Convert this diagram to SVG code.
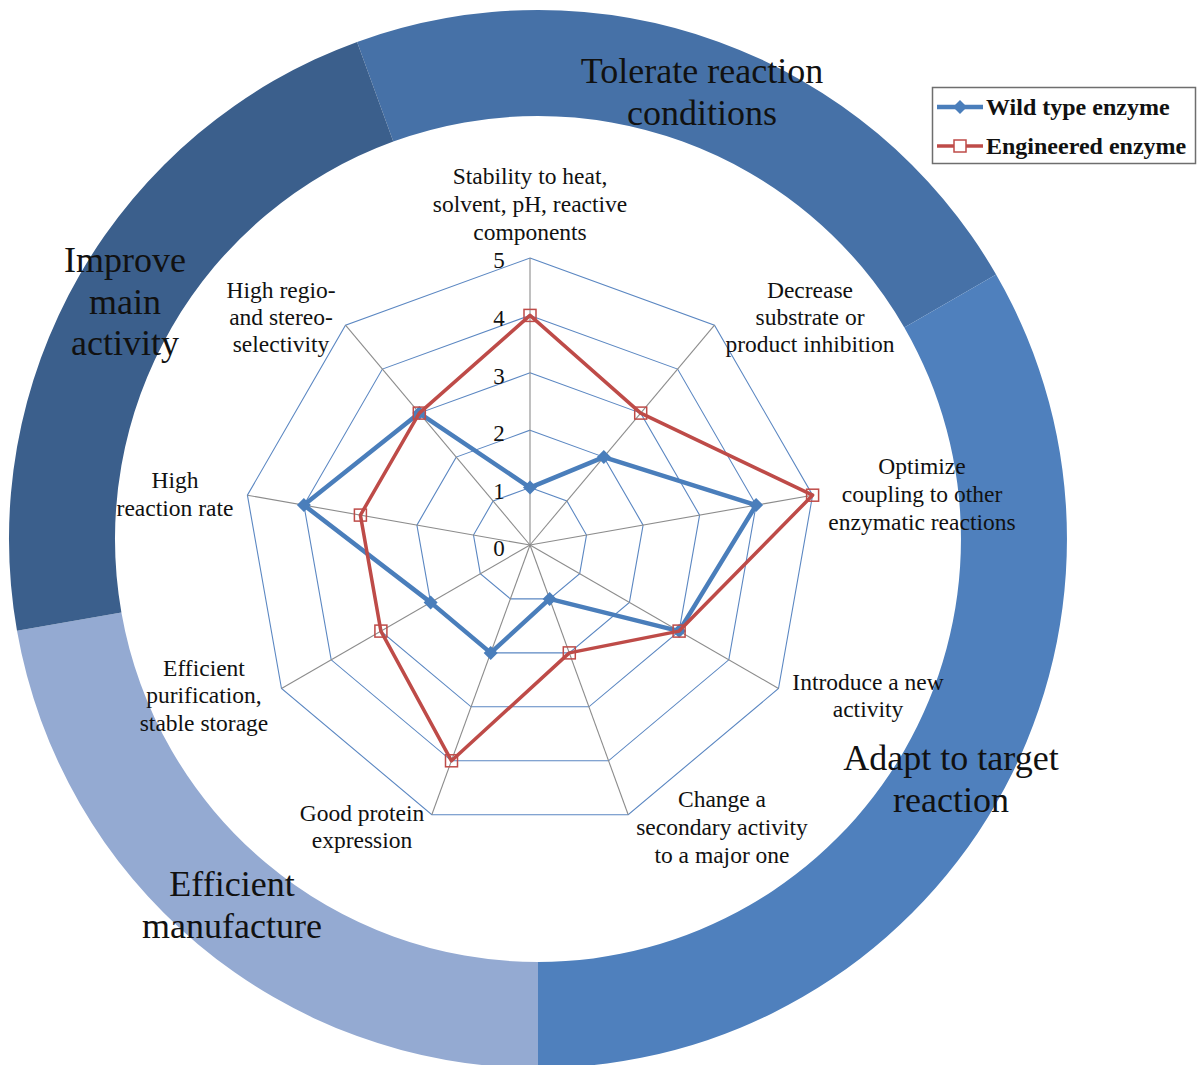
<svg xmlns="http://www.w3.org/2000/svg" width="1197" height="1065" viewBox="0 0 1197 1065">
<style>
  .lbl{font-family:"Liberation Serif","Times New Roman",serif;font-size:23.5px;fill:#111;text-anchor:middle}
  .big{font-family:"Liberation Serif","Times New Roman",serif;font-size:36px;fill:#111;text-anchor:middle}
  .num{font-family:"Liberation Serif","Times New Roman",serif;font-size:23px;fill:#111;text-anchor:middle}
  .leg{font-family:"Liberation Serif","Times New Roman",serif;font-size:24px;font-weight:bold;fill:#111}
  .grid{fill:none;stroke:#5b87c2;stroke-width:1.1}
  .spoke{stroke:#8c8c8c;stroke-width:1.1}
  .wt{fill:none;stroke:#4a7ebb;stroke-width:4.5;stroke-linejoin:round}
  .eng{fill:none;stroke:#be4b48;stroke-width:3.5;stroke-linejoin:round}
</style>
<defs>
  <path id="dia" d="M0,-7 L7,0 L0,7 L-7,0 Z" fill="#4a7ebb"/>
  <rect id="sq" x="-6" y="-6" width="12" height="12" fill="none" stroke="#be4b48" stroke-width="1.5"/>
</defs>
<rect width="1197" height="1065" fill="#ffffff"/>

<g id="ring">
  <path id="seg-tolerate" d="M357.1,41.9 A529,529 0 0 1 996.1,274.5 L904.3,327.5 A423,423 0 0 0 393.3,141.5 Z" fill="#4671a7"/>
  <path id="seg-adapt" d="M996.1,274.5 A529,529 0 0 1 538,1068 L538,962 A423,423 0 0 0 904.3,327.5 Z" fill="#4f80bd"/>
  <path id="seg-manufacture" d="M538,1068 A529,529 0 0 1 17,630.8 L121.4,612.4 A423,423 0 0 0 538,962 Z" fill="#94aad2"/>
  <path id="seg-improve" d="M17,630.8 A529,529 0 0 1 357.1,41.9 L393.3,141.5 A423,423 0 0 0 121.4,612.4 Z" fill="#3b5f8c"/>
</g>

<g id="radar" transform="translate(530,545)">
  <g id="grid">
    <polygon class="grid" points="0,-57.4 36.9,-44 56.5,-10 49.7,28.7 19.6,53.9 -19.6,53.9 -49.7,28.7 -56.5,-10 -36.9,-44"/>
    <polygon class="grid" points="0,-114.8 73.8,-87.9 113.1,-19.9 99.4,57.4 39.3,107.9 -39.3,107.9 -99.4,57.4 -113.1,-19.9 -73.8,-87.9"/>
    <polygon class="grid" points="0,-172.2 110.7,-131.9 169.6,-29.9 149.1,86.1 58.9,161.8 -58.9,161.8 -149.1,86.1 -169.6,-29.9 -110.7,-131.9"/>
    <polygon class="grid" points="0,-229.6 147.6,-175.9 226.1,-39.9 198.8,114.8 78.5,215.8 -78.5,215.8 -198.8,114.8 -226.1,-39.9 -147.6,-175.9"/>
    <polygon class="grid" points="0,-287 184.5,-219.8 282.6,-49.8 248.5,143.5 98.2,269.7 -98.2,269.7 -248.5,143.5 -282.6,-49.8 -184.5,-219.8"/>
  </g>
  <g id="spokes">
    <line class="spoke" x1="0" y1="0" x2="0" y2="-287"/>
    <line class="spoke" x1="0" y1="0" x2="184.5" y2="-219.8"/>
    <line class="spoke" x1="0" y1="0" x2="282.6" y2="-49.8"/>
    <line class="spoke" x1="0" y1="0" x2="248.5" y2="143.5"/>
    <line class="spoke" x1="0" y1="0" x2="98.2" y2="269.7"/>
    <line class="spoke" x1="0" y1="0" x2="-98.2" y2="269.7"/>
    <line class="spoke" x1="0" y1="0" x2="-248.5" y2="143.5"/>
    <line class="spoke" x1="0" y1="0" x2="-282.6" y2="-49.8"/>
    <line class="spoke" x1="0" y1="0" x2="-184.5" y2="-219.8"/>
  </g>
  <g id="scale">
    <text class="num" x="-31" y="11">0</text>
    <text class="num" x="-31" y="-46">1</text>
    <text class="num" x="-31" y="-104">2</text>
    <text class="num" x="-31" y="-161">3</text>
    <text class="num" x="-31" y="-219">4</text>
    <text class="num" x="-31" y="-277">5</text>
  </g>
  <g id="series-wild">
    <polygon class="wt" points="0,-57.4 73.8,-87.9 226.1,-39.9 149.1,86.1 19.6,53.9 -39.3,107.9 -99.4,57.4 -226.1,-39.9 -110.7,-131.9"/>
    <use href="#dia" x="0" y="-57.4"/>
    <use href="#dia" x="73.8" y="-87.9"/>
    <use href="#dia" x="226.1" y="-39.9"/>
    <use href="#dia" x="149.1" y="86.1"/>
    <use href="#dia" x="19.6" y="53.9"/>
    <use href="#dia" x="-39.3" y="107.9"/>
    <use href="#dia" x="-99.4" y="57.4"/>
    <use href="#dia" x="-226.1" y="-39.9"/>
    <use href="#dia" x="-110.7" y="-131.9"/>
  </g>
  <g id="series-engineered">
    <polygon class="eng" points="0,-229.6 110.7,-131.9 282.6,-49.8 149.1,86.1 39.3,107.9 -78.5,215.8 -149.1,86.1 -169.6,-29.9 -110.7,-131.9"/>
    <use href="#sq" x="0" y="-229.6"/>
    <use href="#sq" x="110.7" y="-131.9"/>
    <use href="#sq" x="282.6" y="-49.8"/>
    <use href="#sq" x="149.1" y="86.1"/>
    <use href="#sq" x="39.3" y="107.9"/>
    <use href="#sq" x="-78.5" y="215.8"/>
    <use href="#sq" x="-149.1" y="86.1"/>
    <use href="#sq" x="-169.6" y="-29.9"/>
    <use href="#sq" x="-110.7" y="-131.9"/>
  </g>
</g>

<g id="axis-labels">
  <g id="ax0"><text class="lbl" x="530" y="184">Stability to heat,</text><text class="lbl" x="530" y="212">solvent, pH, reactive</text><text class="lbl" x="530" y="240">components</text></g>
  <g id="ax1"><text class="lbl" x="810" y="298">Decrease</text><text class="lbl" x="810" y="325">substrate or</text><text class="lbl" x="810" y="352">product inhibition</text></g>
  <g id="ax2"><text class="lbl" x="922" y="474">Optimize</text><text class="lbl" x="922" y="502">coupling to other</text><text class="lbl" x="922" y="530">enzymatic reactions</text></g>
  <g id="ax3"><text class="lbl" x="868" y="690">Introduce a new</text><text class="lbl" x="868" y="717">activity</text></g>
  <g id="ax4"><text class="lbl" x="722" y="807">Change a</text><text class="lbl" x="722" y="835">secondary activity</text><text class="lbl" x="722" y="863">to a major one</text></g>
  <g id="ax5"><text class="lbl" x="362" y="821">Good protein</text><text class="lbl" x="362" y="848">expression</text></g>
  <g id="ax6"><text class="lbl" x="204" y="676">Efficient</text><text class="lbl" x="204" y="703">purification,</text><text class="lbl" x="204" y="731">stable storage</text></g>
  <g id="ax7"><text class="lbl" x="175" y="488">High</text><text class="lbl" x="175" y="516">reaction rate</text></g>
  <g id="ax8"><text class="lbl" x="281" y="298">High regio-</text><text class="lbl" x="281" y="325">and stereo-</text><text class="lbl" x="281" y="352">selectivity</text></g>
</g>

<g id="ring-labels">
  <g id="lab-tolerate"><text class="big" x="702" y="83">Tolerate reaction</text><text class="big" x="702" y="125">conditions</text></g>
  <g id="lab-improve"><text class="big" x="125" y="272">Improve</text><text class="big" x="125" y="314">main</text><text class="big" x="125" y="355">activity</text></g>
  <g id="lab-adapt"><text class="big" x="951" y="770">Adapt to target</text><text class="big" x="951" y="812">reaction</text></g>
  <g id="lab-manufacture"><text class="big" x="232" y="896">Efficient</text><text class="big" x="232" y="938">manufacture</text></g>
</g>

<g id="legend">
  <rect x="932.5" y="87.5" width="263" height="76" fill="#ffffff" stroke="#6e6e6e" stroke-width="1.5"/>
  <line x1="937" y1="107" x2="983" y2="107" stroke="#4a7ebb" stroke-width="4.5"/>
  <use href="#dia" x="960" y="107"/>
  <text class="leg" x="986" y="115">Wild type enzyme</text>
  <line x1="937" y1="146" x2="983" y2="146" stroke="#be4b48" stroke-width="3.5"/>
  <rect x="954" y="140" width="12" height="12" fill="#ffffff" stroke="#be4b48" stroke-width="1.5"/>
  <text class="leg" x="986" y="154">Engineered enzyme</text>
</g>
</svg>
